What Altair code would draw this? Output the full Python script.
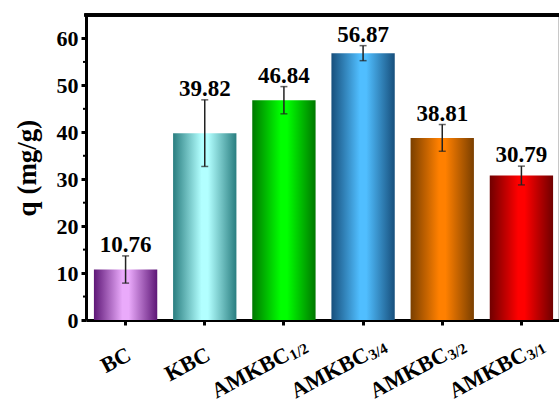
import altair as alt
import pandas as pd

# Adsorption capacity of each sample (mean and standard deviation)
samples = ["BC", "KBC", "AMKBC1/2", "AMKBC3/4", "AMKBC3/2", "AMKBC3/1"]
label_main = ["BC", "KBC", "AMKBC", "AMKBC", "AMKBC", "AMKBC"]
label_sub = ["", "", "1/2", "3/4", "3/2", "3/1"]
q_mean = [10.76, 39.82, 46.84, 56.87, 38.81, 30.79]
q_std = [2.9, 7.1, 2.9, 1.6, 2.85, 2.0]

# Cylinder-style fills: dark edge -> bright centre -> dark edge
edge_colors = ["#5e1777", "#2a7e80", "#007800", "#174f7c", "#7a3f00", "#700000"]
centre_colors = ["#eaaafb", "#b2ffff", "#00ff00", "#50beff", "#ff8000", "#ff0000"]

y_major = [0, 10, 20, 30, 40, 50, 60]
y_minor = [5, 15, 25, 35, 45, 55]

FONT = "Liberation Serif"
W, H = 472, 305
Y_MAX = 65

df = pd.DataFrame({
    "sample": samples,
    "main": label_main,
    "sub": label_sub,
    "q": q_mean,
    "lo": [m - s for m, s in zip(q_mean, q_std)],
    "hi": [m + s for m, s in zip(q_mean, q_std)],
    "txt": [f"{m:.2f}" for m in q_mean],
})
minor_df = pd.DataFrame({"q": y_minor})

x_scale = alt.Scale(range=[0, 475], paddingInner=0.2, paddingOuter=0.1)
x_enc = alt.X(
    "sample:N",
    sort=samples,
    scale=x_scale,
    axis=alt.Axis(
        title=None, labels=False, ticks=True, tickSize=5, tickWidth=3,
        tickColor="black", domainColor="black", domainWidth=3,
        bandPosition=0.5, grid=False,
    ),
)
y_scale = alt.Scale(domain=[0, Y_MAX], nice=False, zero=True)
y_axis = alt.Axis(
    title="q (mg/g)", values=y_major, grid=False,
    tickSize=5, tickWidth=3, tickColor="black",
    domainColor="black", domainWidth=3,
    labelFont=FONT, labelFontSize=22, labelFontWeight="bold",
    labelColor="black", labelPadding=3,
    titleFont=FONT, titleFontSize=27, titleFontWeight="bold",
    titleColor="black", titlePadding=15,
)
y_enc = alt.Y("q:Q", scale=y_scale, axis=y_axis)

base = alt.Chart(df)

# one bar layer per sample, each with its own gradient
bar_layers = []
for s, edge, centre in zip(samples, edge_colors, centre_colors):
    grad = alt.Gradient(
        gradient="linear",
        x1=0, x2=1, y1=0, y2=0,
        stops=[
            alt.GradientStop(offset=0.0, color=edge),
            alt.GradientStop(offset=0.45, color=centre),
            alt.GradientStop(offset=0.55, color=centre),
            alt.GradientStop(offset=1.0, color=edge),
        ],
    )
    bar_layers.append(
        base.transform_filter(alt.datum.sample == s)
        .mark_bar(color=grad)
        .encode(x=x_enc, y=y_enc)
    )

err_line = base.mark_rule(color="#222222", strokeWidth=1.5).encode(
    x=x_enc, y=alt.Y("lo:Q", scale=y_scale, axis=y_axis), y2="hi:Q"
)
cap_hi = base.mark_tick(orient="horizontal", color="#222222", size=7, thickness=1.5).encode(
    x=x_enc, y=alt.Y("hi:Q", scale=y_scale, axis=y_axis)
)
cap_lo = base.mark_tick(orient="horizontal", color="#222222", size=7, thickness=1.5).encode(
    x=x_enc, y=alt.Y("lo:Q", scale=y_scale, axis=y_axis)
)

# value labels stay upright and centred
value_text = base.mark_text(
    font=FONT, fontSize=23, fontWeight="bold", color="black",
    baseline="alphabetic", dy=-4, angle=0, align="center",
).encode(x=x_enc, y=alt.Y("hi:Q", scale=y_scale, axis=y_axis), text="txt:N")

# Rotated category labels (angle comes from the text config). They are
# centre-anchored, so shift each word along its baseline by half its width
# to make every label end at the same point next to its tick.
LABEL_Y = 348
LABEL_END = 8
MAIN_SIZE, SUB_SIZE = 22, 15
glyph_em = {"A": 0.722, "B": 0.667, "C": 0.722, "K": 0.778, "M": 0.944,
            "1": 0.5, "2": 0.5, "3": 0.5, "4": 0.5, "/": 0.278}


def text_width(word, size):
    return sum(glyph_em.get(ch, 0.5) for ch in word) * size


label_layers = []
for word in dict.fromkeys(label_main):
    label_layers.append(
        base.transform_filter(alt.datum.main == word).mark_text(
            font=FONT, fontSize=MAIN_SIZE, fontWeight="bold", color="black",
            baseline="alphabetic",
            dx=LABEL_END - text_width(word, MAIN_SIZE) / 2,
        ).encode(x=x_enc, y=alt.value(LABEL_Y), text="main:N")
    )
sub_width = text_width("1/2", SUB_SIZE)
label_layers.append(
    base.transform_filter(alt.datum.sub != "").mark_text(
        font=FONT, fontSize=SUB_SIZE, fontWeight="bold", color="black",
        baseline="alphabetic", dx=LABEL_END + 1 + sub_width / 2, dy=2,
    ).encode(x=x_enc, y=alt.value(LABEL_Y), text="sub:N")
)

minor_ticks = alt.Chart(minor_df).mark_rule(color="black", strokeWidth=2).encode(
    y=y_enc, x=alt.value(-3), x2=alt.value(0)
)

# upper frame line, drawn as a thin filled band along the top of the plot
top_border = alt.Chart(df).mark_rect(color="black").encode(
    x=alt.value(-1.5), x2=alt.value(W + 5),
    y=alt.datum(Y_MAX + 0.32), y2=alt.datum(Y_MAX - 0.32),
)

chart = alt.layer(
    *bar_layers, err_line, cap_hi, cap_lo, value_text,
    *label_layers, minor_ticks, top_border,
).properties(
    width=W, height=H,
    autosize=alt.AutoSizeParams(type="none"),
    padding={"left": 86, "top": 15, "right": 1, "bottom": 83},
    background="white",
).configure_view(
    stroke="#c8c8c8", strokeWidth=1
).configure_text(angle=332)

chart.save("out.html", embed_options={"renderer": "svg", "actions": False})
